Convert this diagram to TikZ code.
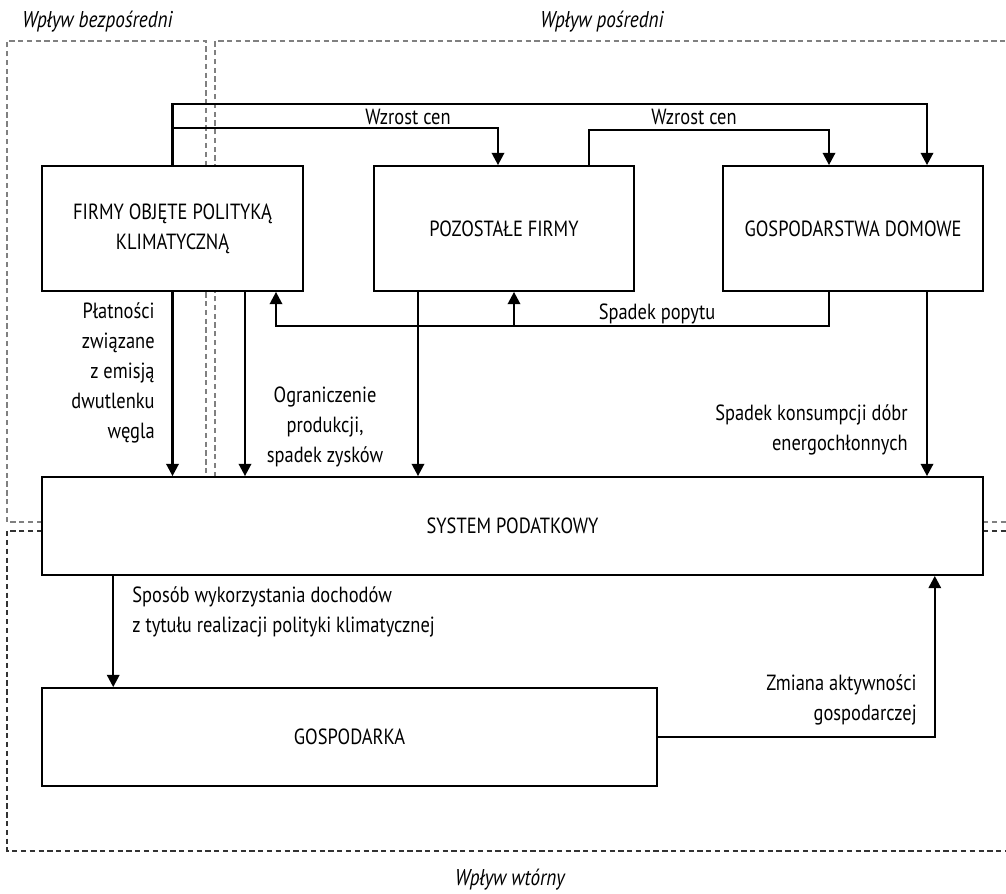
\documentclass[tikz,border=0pt]{standalone}
\usepackage{fontspec}
\setmainfont[FakeStretch=0.84]{PT Sans}
\usetikzlibrary{arrows.meta,calc}
\begin{document}
\begin{tikzpicture}[x=0.02cm,y=-0.02cm]
            \tikzstyle{arrow}=[line width=1.4pt,-{Triangle[length=7pt,width=7pt]}]
            \tikzstyle{box}=[draw,fill=white,line width=1pt,align=center,inner sep=0pt,font=\fontsize{12.5}{17}\selectfont]
            \tikzstyle{lbl}=[inner sep=0pt,font=\fontsize{12.5}{17}\selectfont]
            \tikzstyle{zone}=[gray,dash pattern=on 3pt off 2pt,line width=0.7pt]
            \tikzstyle{zonetitle}=[inner sep=0pt,font=\fontsize{13}{17}\selectfont\itshape]
            \useasboundingbox (0,0) rectangle (1006,893);
            % zones
            \draw[zone] (42,522) -- (7,522) -- (7,41) -- (206,41) -- (206,477);
            \draw[zone] (215,477) -- (215,41) -- (1006,41);
            \draw[zone] (983,522) -- (1006,522);
            \draw[zone,black!80] (42,531) -- (7,531) -- (7,851) -- (1006,851);
            \draw[zone,black!80] (983,531) -- (1006,531);
            \node[zonetitle,anchor=west] (tdirect) at (22,22) {Wpływ bezpośredni};
            \node[zonetitle,anchor=west] (tindirect) at (540,22) {Wpływ pośredni};
            \node[zonetitle] (tsecond) at (510,880) {Wpływ wtórny};
            % boxes
            \node[box,minimum width=5.22cm,minimum height=2.5cm] (firmy) at (172.5,228.5) {FIRMY OBJĘTE POLITYKĄ\\KLIMATYCZNĄ};
            \node[box,minimum width=5.2cm,minimum height=2.5cm] (pozostale) at (504,228.5) {POZOSTAŁE FIRMY};
            \node[box,minimum width=5.2cm,minimum height=2.5cm] (domy) at (853,228.5) {GOSPODARSTWA DOMOWE};
            \node[box,minimum width=18.82cm,minimum height=1.96cm] (system) at (512.5,526) {SYSTEM PODATKOWY};
            \node[box,minimum width=12.3cm,minimum height=1.96cm] (gospodarka) at (349.5,737) {GOSPODARKA};
            % price rise
            \draw[arrow] (firmy.north) -- ++(0,-61) -| ($(domy.north)+(74,0)$);
            \draw[arrow] ($(firmy.north)+(0,-37)$) -| ($(pozostale.north)+(-6,0)$);
            \draw[arrow] ($(pozostale.north)+(85,0)$) -- ++(0,-35) -| ($(domy.north)+(-24,0)$);
            \node[lbl] (wzrost1) at (408,117) {Wzrost cen};
            \node[lbl] (wzrost2) at (694,117) {Wzrost cen};
            % demand drop
            \draw[arrow] ($(domy.south)+(-24,0)$) -- ++(0,34) -| ($(firmy.south)+(103.5,0)$);
            \draw[arrow] ($(pozostale.south)+(10,34)$) -- ($(pozostale.south)+(10,0)$);
            \node[lbl] (popyt) at (657,314) {Spadek popytu};
            % flows to the tax system
            \coordinate (f2) at ($(firmy.south)+(72.5,0)$);
            \coordinate (p1) at ($(pozostale.south)+(-86,0)$);
            \coordinate (d1) at ($(domy.south)+(74,0)$);
            \draw[arrow] (firmy.south) -- (firmy.south |- system.north);
            \draw[arrow] (f2) -- (f2 |- system.north);
            \draw[arrow] (p1) -- (p1 |- system.north);
            \draw[arrow] (d1) -- (d1 |- system.north);
            \node[lbl,align=right,anchor=east] (platnosci) at (155,373) {Płatności\\związane\\z emisją\\dwutlenku\\węgla};
            \node[lbl,align=center] (ograniczenie) at (325,427) {Ograniczenie\\produkcji,\\spadek zysków};
            \node[lbl,align=right,anchor=east] (konsumpcja) at (908,430) {Spadek konsumpcji dóbr\\energochłonnych};
            % secondary effects
            \coordinate (s1) at ($(system.south west)+(72,0)$);
            \draw[arrow] (s1) -- (s1 |- gospodarka.north);
            \draw[arrow] (gospodarka.east) -| ($(system.south east)+(-49,0)$);
            \node[lbl,align=left,anchor=west] (dochody) at (132,612) {Sposób wykorzystania dochodów\\z tytułu realizacji polityki klimatycznej};
            \node[lbl,align=right,anchor=east] (aktywnosc) at (917,700) {Zmiana aktywności\\gospodarczej};
        \end{tikzpicture}
\end{document}
